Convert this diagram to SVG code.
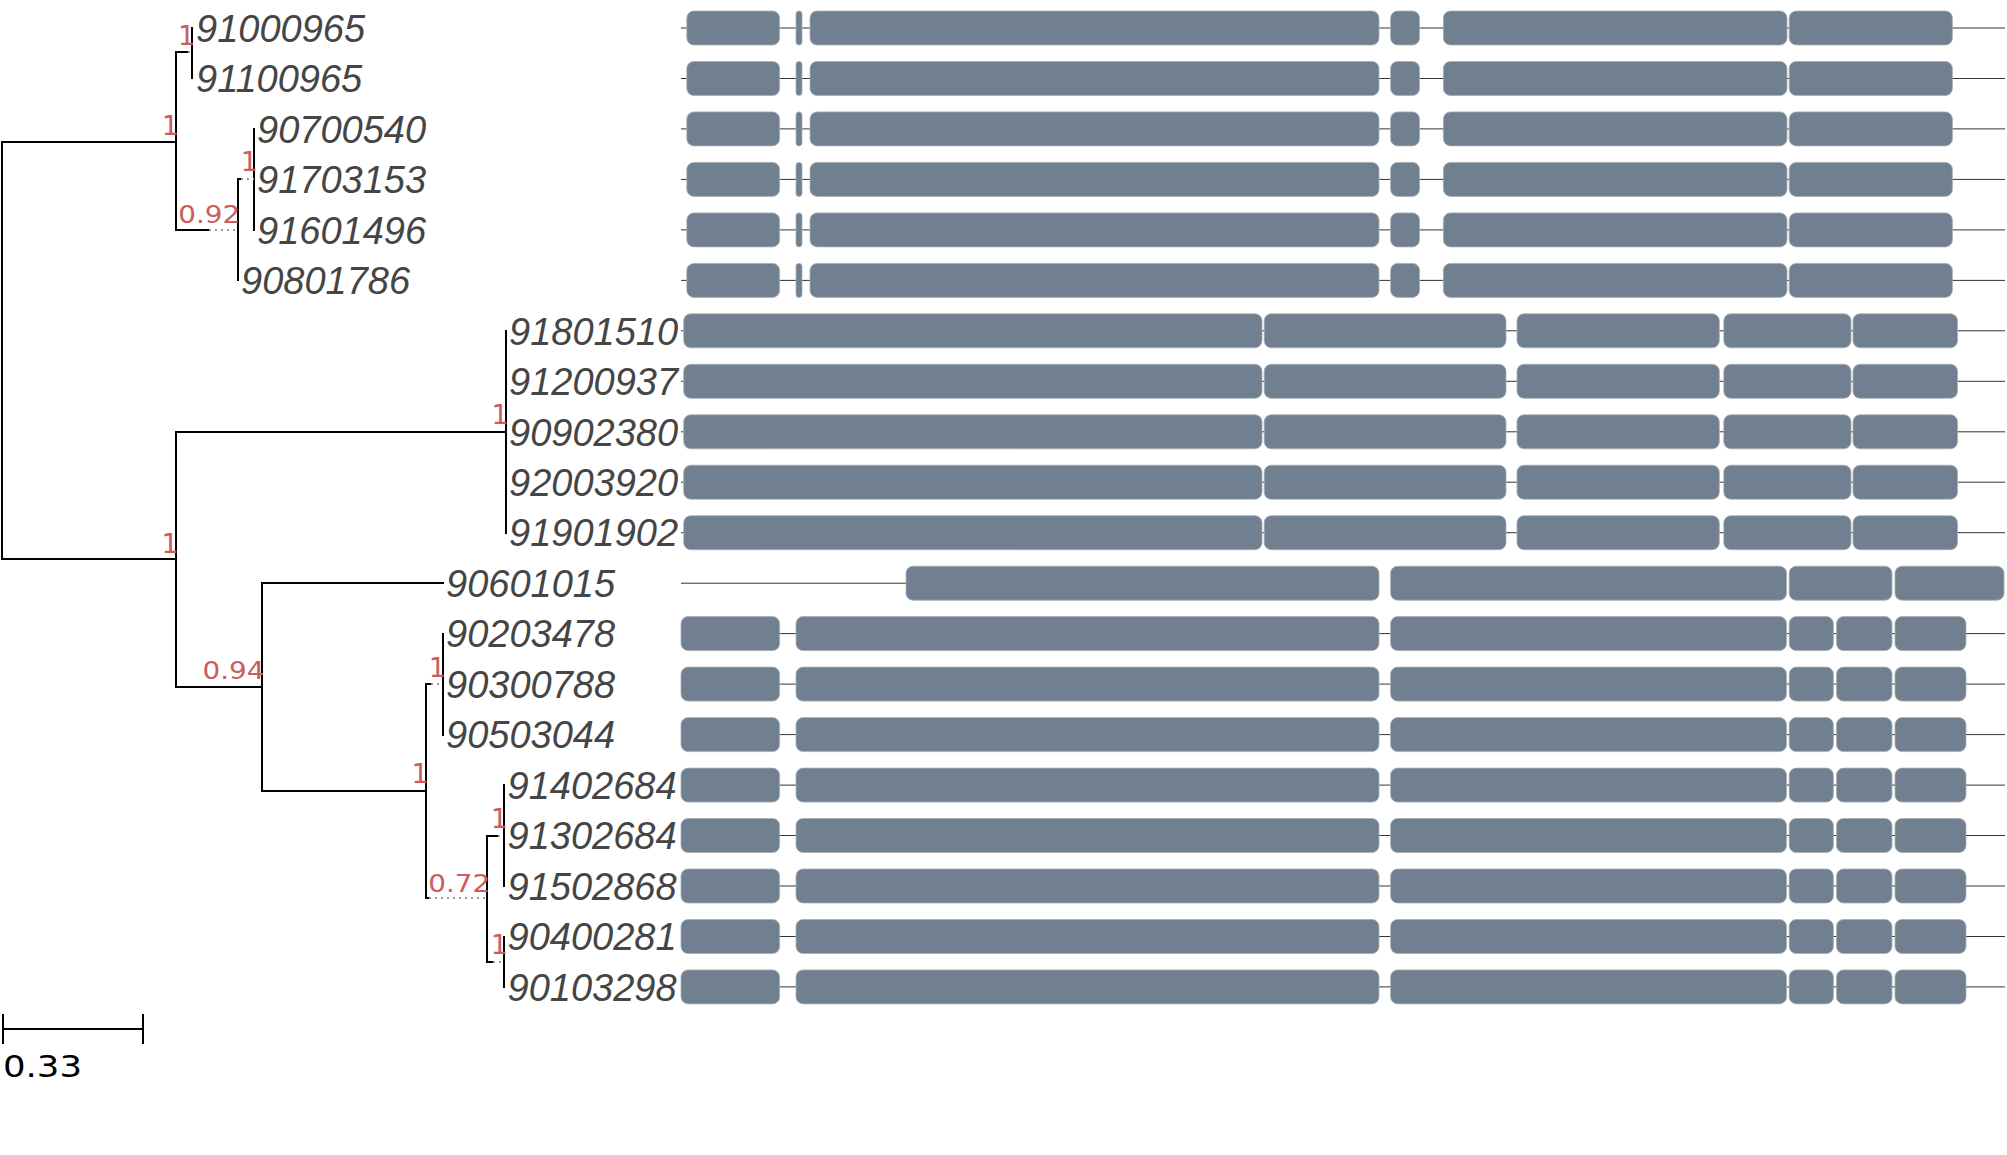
<svg xmlns="http://www.w3.org/2000/svg" xmlns:xlink="http://www.w3.org/1999/xlink" width="2007" height="1155" viewBox="0 0 2007 1155">
<style>
.leaf{font-family:"Liberation Sans",Arial,sans-serif;font-style:italic;font-size:38px;fill:#454545}
.sup{font-family:"DejaVu Sans",sans-serif;font-size:25px;fill:#cd5c5c;text-anchor:end}
.one{font-size:27px}
.br{stroke:#000;stroke-width:2;fill:none;stroke-linecap:square;shape-rendering:crispEdges}
.dot{stroke:#9a9a9a;stroke-width:2;fill:none;stroke-dasharray:2 4;shape-rendering:crispEdges}
.ex{fill:#708090;stroke:#a7adb4;stroke-width:0.8}
.in{stroke:#333;stroke-width:1}
.scale{font-family:"DejaVu Sans",sans-serif;font-size:31px;fill:#000}
</style>
<defs>
<g id="geneA">
<line class="in" x1="681" y1="0" x2="2005" y2="0"/>
<rect class="ex" x="686.8" y="-17" width="92.8" height="34" rx="7"/>
<rect class="ex" x="796" y="-17" width="6" height="34" rx="3"/>
<rect class="ex" x="810" y="-17" width="569" height="34" rx="7"/>
<rect class="ex" x="1390.6" y="-17" width="28.9" height="34" rx="7"/>
<rect class="ex" x="1443.4" y="-17" width="343.6" height="34" rx="7"/>
<rect class="ex" x="1789.2" y="-17" width="163.2" height="34" rx="7"/>
</g>
<g id="geneB">
<line class="in" x1="681" y1="0" x2="2005" y2="0"/>
<rect class="ex" x="683.7" y="-17" width="578.3" height="34" rx="7"/>
<rect class="ex" x="1264.2" y="-17" width="241.8" height="34" rx="7"/>
<rect class="ex" x="1517" y="-17" width="202.3" height="34" rx="7"/>
<rect class="ex" x="1723.8" y="-17" width="127.2" height="34" rx="7"/>
<rect class="ex" x="1853" y="-17" width="104.5" height="34" rx="7"/>
</g>
<g id="geneC">
<line class="in" x1="681" y1="0" x2="906" y2="0"/>
<rect class="ex" x="906" y="-17" width="473" height="34" rx="7"/>
<rect class="ex" x="1390.6" y="-17" width="395.9" height="34" rx="7"/>
<rect class="ex" x="1789.2" y="-17" width="102.8" height="34" rx="7"/>
<rect class="ex" x="1895" y="-17" width="109" height="34" rx="7"/>
</g>
<g id="geneD">
<line class="in" x1="681" y1="0" x2="2005" y2="0"/>
<rect class="ex" x="681" y="-17" width="98.6" height="34" rx="7"/>
<rect class="ex" x="796" y="-17" width="583" height="34" rx="7"/>
<rect class="ex" x="1390.6" y="-17" width="395.9" height="34" rx="7"/>
<rect class="ex" x="1789.2" y="-17" width="44.2" height="34" rx="7"/>
<rect class="ex" x="1836.5" y="-17" width="55.5" height="34" rx="7"/>
<rect class="ex" x="1895" y="-17" width="71" height="34" rx="7"/>
</g>
</defs>
<rect width="2007" height="1155" fill="#fff"/>
<g id="connectors">
<path class="br" d="M2,142 V559 M2,142 H176 M2,559 H176"/>
<path class="br" d="M176,52 V230 M176,52 H187 M192,28 V78 M176,230 H208 M238,179 V280 M238,179 H240 M254,129 V230"/>
<path class="dot" d="M188,52 H192 M209,230 H238 M241,179 H254"/>
<path class="br" d="M176,432 V687 M176,432 H506 M506,331 V533 M176,687 H262 M262,583 V791 M262,583 H443 M262,791 H426 M426,684 V898 M426,684 H430 M443,634 V735 M426,898 H428 M487,836 V962 M487,836 H497 M504,785 V886 M487,962 H492 M504,937 V987"/>
<path class="dot" d="M431,684 H443 M429,898 H487 M498,836 H504 M493,962 H504"/>
</g>
<g id="leaf-91000965"><text class="leaf" x="196" y="41.7">91000965</text><use xlink:href="#geneA" y="28"/></g>
<g id="leaf-91100965"><text class="leaf" x="196" y="92.2">91100965</text><use xlink:href="#geneA" y="78.5"/></g>
<g id="leaf-90700540"><text class="leaf" x="257" y="142.6">90700540</text><use xlink:href="#geneA" y="128.9"/></g>
<g id="leaf-91703153"><text class="leaf" x="257" y="193.1">91703153</text><use xlink:href="#geneA" y="179.4"/></g>
<g id="leaf-91601496"><text class="leaf" x="257" y="243.6">91601496</text><use xlink:href="#geneA" y="229.9"/></g>
<g id="leaf-90801786"><text class="leaf" x="241" y="294.1">90801786</text><use xlink:href="#geneA" y="280.4"/></g>
<g id="leaf-91801510"><text class="leaf" x="509" y="344.5">91801510</text><use xlink:href="#geneB" y="330.8"/></g>
<g id="leaf-91200937"><text class="leaf" x="509" y="395">91200937</text><use xlink:href="#geneB" y="381.3"/></g>
<g id="leaf-90902380"><text class="leaf" x="509" y="445.5">90902380</text><use xlink:href="#geneB" y="431.8"/></g>
<g id="leaf-92003920"><text class="leaf" x="509" y="495.9">92003920</text><use xlink:href="#geneB" y="482.2"/></g>
<g id="leaf-91901902"><text class="leaf" x="509" y="546.4">91901902</text><use xlink:href="#geneB" y="532.7"/></g>
<g id="leaf-90601015"><text class="leaf" x="446" y="596.9">90601015</text><use xlink:href="#geneC" y="583.2"/></g>
<g id="leaf-90203478"><text class="leaf" x="446" y="647.3">90203478</text><use xlink:href="#geneD" y="633.6"/></g>
<g id="leaf-90300788"><text class="leaf" x="446" y="697.8">90300788</text><use xlink:href="#geneD" y="684.1"/></g>
<g id="leaf-90503044"><text class="leaf" x="446" y="748.3">90503044</text><use xlink:href="#geneD" y="734.6"/></g>
<g id="leaf-91402684"><text class="leaf" x="507.5" y="798.8">91402684</text><use xlink:href="#geneD" y="785.1"/></g>
<g id="leaf-91302684"><text class="leaf" x="507.5" y="849.2">91302684</text><use xlink:href="#geneD" y="835.5"/></g>
<g id="leaf-91502868"><text class="leaf" x="507.5" y="899.7">91502868</text><use xlink:href="#geneD" y="886"/></g>
<g id="leaf-90400281"><text class="leaf" x="507.5" y="950.2">90400281</text><use xlink:href="#geneD" y="936.5"/></g>
<g id="leaf-90103298"><text class="leaf" x="507.5" y="1000.6">90103298</text><use xlink:href="#geneD" y="986.9"/></g>
<g id="node-A"><text class="sup one" x="179" y="134.5">1</text></g>
<g id="node-A1"><text class="sup one" x="195.3" y="45">1</text></g>
<g id="node-A2"><text class="sup" x="240.3" y="222.7" textLength="62" lengthAdjust="spacingAndGlyphs">0.92</text></g>
<g id="node-A21"><text class="sup one" x="258" y="171">1</text></g>
<g id="node-B"><text class="sup one" x="178.7" y="552.5">1</text></g>
<g id="node-B1"><text class="sup one" x="508.7" y="424">1</text></g>
<g id="node-B2"><text class="sup" x="264.5" y="679" textLength="62" lengthAdjust="spacingAndGlyphs">0.94</text></g>
<g id="node-B22"><text class="sup one" x="428.7" y="783">1</text></g>
<g id="node-B221"><text class="sup one" x="446" y="676.7">1</text></g>
<g id="node-B222"><text class="sup" x="490.3" y="891.7" textLength="62" lengthAdjust="spacingAndGlyphs">0.72</text></g>
<g id="node-B2221"><text class="sup one" x="508" y="828.3">1</text></g>
<g id="node-B2222"><text class="sup one" x="508" y="954.3">1</text></g>
<g id="scale-bar">
<path class="br" style="stroke-linecap:butt" d="M3,1029 H143 M3,1014 V1044 M143,1014 V1044"/>
<text class="scale" x="3" y="1077" textLength="79" lengthAdjust="spacingAndGlyphs">0.33</text>
</g>
</svg>
